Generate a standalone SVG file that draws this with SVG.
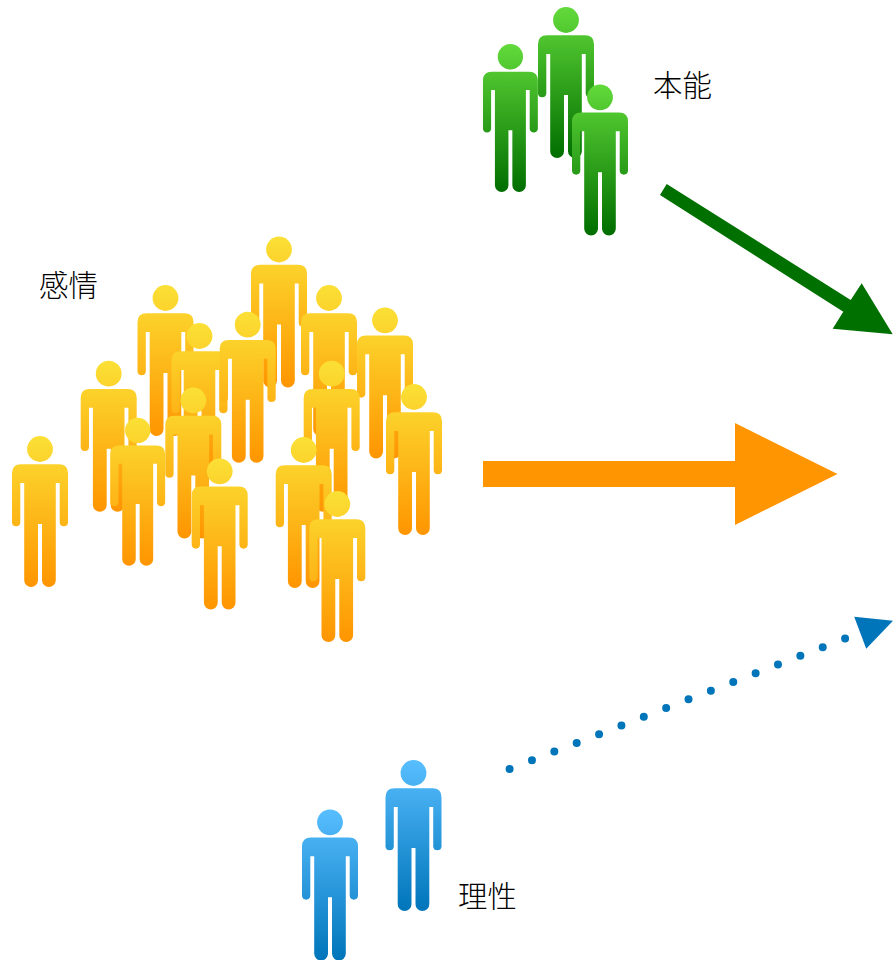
<svg xmlns="http://www.w3.org/2000/svg" xmlns:xlink="http://www.w3.org/1999/xlink" width="893" height="960" viewBox="0 0 893 960">
<style>
text{font-family:"Noto Sans CJK JP","Noto Sans CJK SC",sans-serif;font-size:29.4px;font-weight:300;fill:#000}
.o{fill:url(#orange)}.g{fill:url(#green)}.b{fill:url(#blue)}
</style>
<defs>
<linearGradient id="orange" gradientUnits="userSpaceOnUse" x1="0" y1="0" x2="0" y2="151"><stop offset="0" stop-color="#FBE035"/><stop offset="1" stop-color="#FF9500"/></linearGradient>
<linearGradient id="green" gradientUnits="userSpaceOnUse" x1="0" y1="0" x2="0" y2="151"><stop offset="0" stop-color="#62DA3A"/><stop offset="1" stop-color="#006E00"/></linearGradient>
<linearGradient id="blue" gradientUnits="userSpaceOnUse" x1="0" y1="0" x2="0" y2="151"><stop offset="0" stop-color="#58BEFF"/><stop offset="1" stop-color="#0075BA"/></linearGradient>
<g id="person"><circle cx="0" cy="13" r="12.9"/><path d="M-19 28.3H19Q28 28.3 28 37.3V86.8A4.2 4.2 0 0 1 19.7 86.8V47H15.8V144.2A6.9 6.9 0 0 1 2 144.2V88H-2V144.2A6.9 6.9 0 0 1 -15.8 144.2V47H-19.7V86.8A4.2 4.2 0 0 1 -28 86.8V37.3Q-28 28.3 -19 28.3Z"/></g>
</defs>
<rect width="893" height="960" fill="#fff"/>
<g id="connectors">
<path id="arrow-instinct" fill="#007000" d="M666.7 184L850.7 300L861.7 283.3L892.7 334.3L832.7 328.7L843.3 311.7L660 195Z"/>
<path id="arrow-emotion" fill="#FF9500" d="M483 461H735V423L837.5 474L735 525V487H483Z"/>
<g id="arrow-reason"><line x1="509.6" y1="769" x2="845.4" y2="638.3" stroke="#0075BA" stroke-width="8" stroke-linecap="round" stroke-dasharray="0 24"/><path fill="#0075BA" d="M854.2 616.7L893 620.7L866.2 648.7Z"/></g>
</g>
<g id="instinct">
<use id="g1" href="#person" class="g" transform="translate(566 7)"/>
<use id="g2" href="#person" class="g" transform="translate(510.4 44) scale(.98)"/>
<use id="g3" href="#person" class="g" transform="translate(600 84.3)"/>
<text id="label-instinct" x="653" y="95.5">本能</text>
</g>
<g id="emotion">
<use id="e1" href="#person" class="o" transform="translate(279 236.5)"/>
<use id="e2" href="#person" class="o" transform="translate(165.5 285)"/>
<use id="e3" href="#person" class="o" transform="translate(329 285)"/>
<use id="e4" href="#person" class="o" transform="translate(385 307.3)"/>
<use id="e5" href="#person" class="o" transform="translate(199.5 323)"/>
<use id="e6" href="#person" class="o" transform="translate(247.7 311.7)"/>
<use id="e7" href="#person" class="o" transform="translate(108.7 360.7)"/>
<use id="e8" href="#person" class="o" transform="translate(331.7 360.7)"/>
<use id="e9" href="#person" class="o" transform="translate(414 384)"/>
<use id="e10" href="#person" class="o" transform="translate(193.3 387.5)"/>
<use id="e11" href="#person" class="o" transform="translate(137.7 417.7) scale(.98)"/>
<use id="e12" href="#person" class="o" transform="translate(219.7 458.3)"/>
<use id="e13" href="#person" class="o" transform="translate(303.7 437)"/>
<use id="e14" href="#person" class="o" transform="translate(337.3 491)"/>
<use id="e15" href="#person" class="o" transform="translate(40 436)"/>
<text id="label-emotion" x="39" y="295.5">感情</text>
</g>
<g id="reason">
<use id="b1" href="#person" class="b" transform="translate(413.5 760)"/>
<use id="b2" href="#person" class="b" transform="translate(330 809.3)"/>
<text id="label-reason" x="458" y="906.5">理性</text>
</g>
</svg>
